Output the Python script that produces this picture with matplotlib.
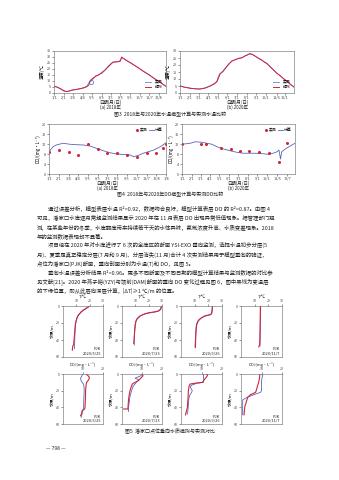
import matplotlib
matplotlib.use('Agg')
import matplotlib.pyplot as plt

plt.rcParams['font.family'] = ['Noto Sans CJK SC', 'DejaVu Sans']
plt.rcParams['axes.linewidth'] = 0.45
plt.rcParams['axes.edgecolor'] = '#777777'
plt.rcParams['xtick.major.width'] = 0.4
plt.rcParams['ytick.major.width'] = 0.4
plt.rcParams['xtick.major.size'] = 1.2
plt.rcParams['ytick.major.size'] = 1.2
plt.rcParams['xtick.major.pad'] = 0.8
plt.rcParams['ytick.major.pad'] = 1.0
plt.rcParams['xtick.color'] = '#444444'
plt.rcParams['ytick.color'] = '#444444'

RED = '#d0243c'
BLUE = '#5566b8'
TXT = '#222222'

# ---- 图3 水温 (day of year) ----
t18_day = [0, 10, 20, 30, 40, 50, 60, 75, 90, 100, 108, 113, 118, 125, 135, 145,
           155, 165, 175, 185, 192, 200, 208, 215, 220, 226, 235, 250, 270, 290,
           310, 330, 345, 364]
t18_sim = [5.5, 5.0, 3.8, 2.2, 1.2, 1.6, 2.4, 3.0, 3.8, 4.5, 5.5, 6.5, 10.5, 12.0,
           13.8, 15.2, 16.5, 18.8, 21.5, 24.0, 25.8, 26.0, 26.0, 26.4, 30.0, 28.6,
           27.3, 25.0, 21.6, 18.3, 14.9, 11.4, 8.8, 5.6]
t18_obs = [5.7, 4.8, 3.5, 1.8, 1.0, 1.9, 2.6, 3.2, 4.0, 4.8, 6.0, 8.5, 9.5, 11.0,
           14.2, 15.0, 17.2, 19.0, 22.0, 24.5, 25.6, 25.7, 26.2, 27.0, 29.6, 28.8,
           27.0, 24.8, 21.8, 18.0, 15.1, 11.2, 9.0, 5.4]
t18_circ_day = [121]
t18_circ_val = [9.0]
t18_tick_day = [0, 31, 62, 93, 124, 155, 185, 216, 247, 279, 310, 341]
t18_tick_lab = ['1/1', '2/1', '3/4', '4/4', '5/5', '6/5', '7/5', '8/5', '9/5',
                '10/7', '11/7', '12/8']

t20_day = [0, 15, 32, 50, 64, 80, 96, 110, 118, 123, 128, 137, 145, 155, 166, 176,
           187, 198, 209, 216, 223, 232, 241, 252, 262, 270, 278, 290, 300, 310,
           321, 332, 343, 355, 365]
t20_sim = [5.0, 4.2, 3.4, 3.0, 2.8, 3.5, 5.0, 6.5, 8.0, 10.5, 13.5, 15.5, 17.5,
           20.5, 22.7, 23.8, 24.6, 25.2, 26.5, 27.3, 28.0, 27.6, 26.2, 24.8, 23.4,
           22.2, 21.0, 18.5, 16.3, 14.2, 12.2, 10.2, 8.2, 6.0, 4.2]
t20_obs = [5.1, 4.0, 3.5, 2.9, 2.9, 3.6, 4.8, 6.8, 8.4, 12.0, 14.0, 15.0, 17.8,
           20.0, 23.0, 23.6, 24.9, 25.0, 26.8, 27.1, 28.2, 27.3, 26.4, 24.5, 23.6,
           22.0, 21.3, 18.2, 16.5, 14.0, 12.4, 10.0, 8.4, 5.8, 4.3]
t20_tick_day = [0, 31, 60, 91, 121, 152, 182, 213, 244, 274, 310, 335]
t20_tick_lab = ['1/1', '2/1', '3/1', '4/1', '5/1', '6/1', '7/1', '8/1', '9/1',
                '10/1', '11/6', '12/1']

# ---- 图4 DO ----
do18_day = [0, 13, 23, 45, 66, 90, 109, 130, 151, 173, 194, 215, 240, 258, 269,
            285, 300, 318, 333, 354, 372]
do18_sim = [8.9, 10.9, 11.6, 12.3, 11.9, 11.7, 11.6, 11.2, 10.3, 9.3, 8.5, 8.0,
            7.8, 7.6, 6.9, 7.5, 8.3, 9.0, 9.6, 10.9, 12.5]
do18_obs_day = [0, 31, 62, 93, 124, 155, 185, 217, 247, 279, 310, 341, 362, 372]
do18_obs = [8.7, 9.6, 8.7, 7.5, 11.9, 10.1, 8.5, 8.5, 7.5, 6.9, 8.5, 8.5, 10.5, 11.9]
do18_tick_day = [0, 31, 62, 93, 124, 155, 185, 217, 247, 279, 310, 341, 372]
do18_tick_lab = ['1/1', '2/1', '3/4', '4/4', '5/5', '6/5', '7/5', '8/6', '9/5',
                 '10/7', '11/7', '12/8', '1/8']

do20_day = [0, 27, 43, 64, 97, 113, 134, 156, 177, 199, 220, 241, 263, 279, 295,
            308, 314, 319, 323, 338, 366]
do20_sim = [11.9, 12.3, 12.9, 12.7, 11.9, 10.9, 10.0, 9.3, 8.7, 8.3, 8.3, 8.3,
            8.1, 7.9, 8.3, 8.9, 9.6, 6.0, 8.9, 10.3, 12.3]
do20_obs_day = [0, 62, 77, 127, 159, 188, 217, 250, 282, 314, 340]
do20_obs = [11.9, 11.9, 11.9, 10.3, 10.0, 9.3, 9.3, 8.7, 8.3, 4.9, 12.3]
do20_tick_day = [0, 31, 60, 91, 121, 152, 182, 213, 244, 274, 309, 341]
do20_tick_lab = ['1/1', '2/1', '3/1', '4/1', '5/1', '6/1', '7/1', '8/1', '9/1',
                 '10/1', '11/5', '12/7']

# ---- 图5 垂向剖面 (PJK) ----
prof_dates = ['2020/5/25', '2020/7/23', '2020/9/26', '2020/11/7']

T_obs_z = [[0, 1, 3, 5, 7, 9, 11, 14, 18, 22, 30, 40, 45, 48, 52],
           [0, 2, 4, 6, 7, 8, 9, 10, 12, 15, 18, 22, 30, 40, 44],
           [0, 3, 6, 9, 10, 11, 12, 14, 16, 18, 22, 30, 40, 49],
           [0, 10, 20, 30, 40, 46, 48]]
T_obs = [[19.5, 19.0, 17.0, 15.0, 13.5, 12.5, 11.5, 10.5, 9.8, 9.2, 8.8, 8.3, 8.0, 7.2, 7.0],
         [29.5, 29.2, 28.8, 27.0, 24.0, 20.0, 17.5, 16.0, 13.5, 11.5, 10.5, 10.0, 9.5, 9.0, 8.8],
         [23.0, 22.8, 22.6, 22.3, 21.5, 19.0, 17.0, 15.0, 13.5, 12.5, 11.5, 11.0, 10.7, 10.5],
         [14.2, 14.1, 14.0, 13.9, 13.8, 13.6, 13.0]]
T_sim_z = [[0, 1, 3, 5, 7, 9, 11, 14, 18, 22, 30, 40, 45, 50],
           [0, 2, 4, 6, 7, 8, 9, 10, 12, 15, 18, 22, 30, 40, 46],
           [0, 3, 6, 9, 10, 11, 12, 14, 16, 18, 22, 30, 40, 48],
           [0, 10, 20, 30, 40, 47]]
T_sim = [[19.8, 19.2, 17.5, 15.5, 13.8, 12.5, 11.2, 10.4, 9.8, 9.4, 9.0, 8.8, 8.7, 8.6],
         [29.8, 29.5, 29.0, 27.5, 25.0, 21.0, 18.0, 15.8, 13.0, 11.2, 10.3, 9.8, 9.4, 9.2, 9.2],
         [23.2, 23.0, 22.8, 22.5, 22.0, 20.0, 17.5, 14.8, 13.2, 12.2, 11.2, 10.8, 10.5, 10.3],
         [14.4, 14.3, 14.2, 14.1, 14.0, 13.9]]

DO_obs_z = [[0, 2, 4, 6, 8, 10, 14, 20, 30, 40, 42, 44, 48, 50],
            [0, 2, 4, 6, 8, 10, 12, 16, 20, 25, 30, 40, 42, 42],
            [0, 1, 3, 5, 8, 10, 11, 12, 14, 17, 20, 30, 40, 45, 49],
            [0, 5, 10, 15, 20, 22, 25, 28, 31, 35, 39, 45, 49]]
DO_obs = [[11.5, 12.5, 13.2, 13.0, 12.5, 11.8, 11.5, 11.3, 11.2, 11.0, 10.8, 9.6, 9.2, 8.8],
          [10.0, 10.5, 9.8, 9.0, 8.2, 6.5, 5.2, 4.5, 4.0, 3.6, 3.3, 3.0, 2.9, 0.8],
          [12.5, 13.0, 12.6, 12.0, 11.0, 10.5, 7.0, 4.5, 4.0, 3.8, 3.6, 3.4, 3.1, 2.6, 2.2],
          [9.2, 9.0, 8.6, 8.0, 7.4, 7.1, 4.5, 3.3, 2.9, 2.4, 1.9, 1.6, 1.5]]
DO_sim_z = [[0, 2, 5, 8, 10, 12, 15, 20, 30, 40, 45, 50, 52],
            [0, 2, 4, 5, 7, 9, 12, 15, 20, 25, 30, 40, 45],
            [0, 5, 10, 11, 13, 15, 18, 20, 22, 25, 30, 40, 48],
            [0, 2, 5, 10, 15, 20, 22, 25, 28, 31, 35, 40, 49]]
DO_sim = [[9.8, 9.5, 8.8, 9.0, 9.6, 10.2, 10.5, 10.6, 10.4, 10.3, 9.8, 9.3, 9.0],
          [10.0, 9.5, 7.5, 6.5, 8.5, 7.5, 6.5, 5.5, 4.8, 4.2, 3.8, 3.3, 3.2],
          [11.0, 11.0, 11.0, 8.0, 5.5, 4.5, 5.0, 5.5, 5.2, 4.3, 3.8, 3.5, 3.2],
          [10.0, 10.6, 10.2, 10.0, 10.0, 10.0, 9.5, 6.0, 3.0, 0.9, 0.8, 0.8, 0.8]]

body = [
    (48, '通过误差分析，模型表层水温 R²=0.92，数据吻合良好，模型计算表层 DO 的 R²=0.87。由图 4'),
    (37, '可见，潘家口水库逐月常规监测结果显示 2020 年在 11 月表层 DO 出现异常低值现象。据管理部门观'),
    (37, '测，在某些年份的冬季，水库翻库带来持续若干天的水体异味，氨氮浓度升高、水质变差现象。2018'),
    (37, '年的监测数据表现却不显著。'),
    (48, '项目组在 2020 年对水库进行了 6 次的全库区的断面 YSI-EXO 垂向监测，选择水温初步分层(5'),
    (37, '月)、夏季是真正稳定分层(7 月和 9 月)、分层消失(11 月)合计 4 次实测结果用于模型垂向的验证，'),
    (37, '点位为潘家口(PJK)断面，垂向剖面分别为水温(T)和 DO，见图 5。'),
    (48, '垂向水温误差分析结果 R²=0.96。更多不同断面及不同日期的模型计算结果与监测数据的对比参'),
    (37, '见文献[21]。2020 年燕子峪(YZY)与坝前(DAM)断面的垂向 DO 变化过程见图 6，图中黑线为变温层'),
    (37, '的下缘位置，即从此层向深层计算，|ΔT|≥1 ℃/m 的位置。'),
]

W, H = 339, 480
fig = plt.figure(figsize=(W / 100, H / 100), dpi=100)
fig.patch.set_facecolor('white')


def box(x0, y0, x1, y1):
    return fig.add_axes([x0 / W, 1 - y1 / H, (x1 - x0) / W, (y1 - y0) / H])


def put(x, y, s, size=3.6, ha='center', **kw):
    fig.text(x / W, 1 - y / H, s, fontsize=size, ha=ha, va='center', color=TXT, **kw)


def small_ticks(ax, size=2.9):
    ax.tick_params(labelsize=size)


# 图3
for (x0, x1, days, sim, obs, ymax, tdays, tlab, sub) in [
        (54, 166, t18_day, t18_sim, t18_obs, 35, t18_tick_day, t18_tick_lab, '(a) 2018年'),
        (180, 294, t20_day, t20_sim, t20_obs, 30, t20_tick_day, t20_tick_lab, '(b) 2020年')]:
    ax = box(x0, 51, x1, 93)
    l1, = ax.plot(days, obs, color=BLUE, lw=0.5, label='实测')
    l2, = ax.plot(days, sim, color=RED, lw=0.7, label='模拟')
    if ymax == 35:
        ax.plot(t18_circ_day, t18_circ_val, 'o', mfc='none', mec=BLUE, ms=3, mew=0.5)
    ax.set_xlim(0, days[-1])
    ax.set_ylim(0, ymax)
    ax.set_yticks(range(0, ymax + 1, 5))
    ax.set_xticks(tdays)
    ax.set_xticklabels(tlab)
    ax.set_ylabel('温度/℃', fontsize=3.2, labelpad=1)
    small_ticks(ax, 2.7)
    ax.legend(handles=[l1, l2], loc='lower right', fontsize=2.8, frameon=False,
              handlelength=1.5, borderaxespad=0.6, labelspacing=0.2)
    put((x0 + x1) / 2, 102, '日期(月/日)', 3.2)
    put((x0 + x1) / 2, 107, sub, 3.2)
put(170, 115, '图3  2018年与2020年水温模型计算与实测水温比较', 3.6)

# 图4
for (x0, x1, days, sim, odays, obs, tdays, tlab, sub) in [
        (49, 166, do18_day, do18_sim, do18_obs_day, do18_obs, do18_tick_day, do18_tick_lab, '(a) 2018年'),
        (182, 295, do20_day, do20_sim, do20_obs_day, do20_obs, do20_tick_day, do20_tick_lab, '(b) 2020年')]:
    ax = box(x0, 124, x1, 174)
    l2, = ax.plot(days, sim, color=BLUE, lw=0.6, label='计算')
    l1, = ax.plot(odays, obs, 'o', color=RED, ms=1.2, label='实测')
    ax.set_xlim(0, days[-1])
    ax.set_ylim(0, 20)
    ax.set_yticks(range(0, 21, 4))
    ax.set_xticks(tdays)
    ax.set_xticklabels(tlab)
    ax.set_ylabel('DO/(mg·L⁻¹)', fontsize=3.2, labelpad=1)
    small_ticks(ax, 2.7)
    ax.legend(handles=[l1, l2], loc='upper right', fontsize=2.8, frameon=False, ncol=2,
              handlelength=1.2, columnspacing=0.3, handletextpad=0.2, borderaxespad=0.6)
    put((x0 + x1) / 2, 183, '日期(月/日)', 3.2)
    put((x0 + x1) / 2, 188, sub, 3.2)
put(170, 195, '图4  2018年与2020年DO模型计算与实测DO比较', 3.6)

# 正文
for i, (x, line) in enumerate(body):
    put(x, 209 + 9.1 * i, line, 3.9, ha='left')

# 图5
cols = [(63, 103), (122, 162), (181, 222), (241, 282)]
for k, (x0, x1) in enumerate(cols):
    for row in range(2):
        y0, y1 = (306, 357) if row == 0 else (374, 424)
        ax = box(x0, y0, x1, y1)
        if row == 0:
            ax.plot(T_sim[k], T_sim_z[k], color=BLUE, lw=0.6)
            ax.plot(T_obs[k], T_obs_z[k], color=RED, lw=0.8)
            ax.set_xlim(0, 30)
            ax.set_xticks([10, 20, 30])
            put((x0 + x1) / 2, y0 - 8.5, 'T/℃', 2.9)
        else:
            ax.plot(DO_sim[k], DO_sim_z[k], color=BLUE, lw=0.6)
            ax.plot(DO_obs[k], DO_obs_z[k], color=RED, lw=0.8)
            ax.set_xlim(0, 20)
            ax.set_xticks([10, 20])
            put((x0 + x1) / 2, y0 - 9.5, 'DO/(mg·L⁻¹)', 2.9)
        ax.set_ylim(60, 0)
        ax.set_yticks([0, 20, 40, 60])
        ax.xaxis.tick_top()
        ax.set_ylabel('水深/m', fontsize=3.0, labelpad=1)
        small_ticks(ax, 2.6)
        ax.text(0.95, 0.15, 'PJK', transform=ax.transAxes, fontsize=2.8,
                ha='right', va='center', color=TXT)
        ax.text(0.95, 0.07, prof_dates[k], transform=ax.transAxes, fontsize=2.8,
                ha='right', va='center', color=TXT)
put(170, 432, '图5  潘家口点位垂向水质模拟与实测对比', 3.6)

put(56, 449, '— 798 —', 3.6)

fig.savefig('out.png', dpi=100, facecolor='white')
